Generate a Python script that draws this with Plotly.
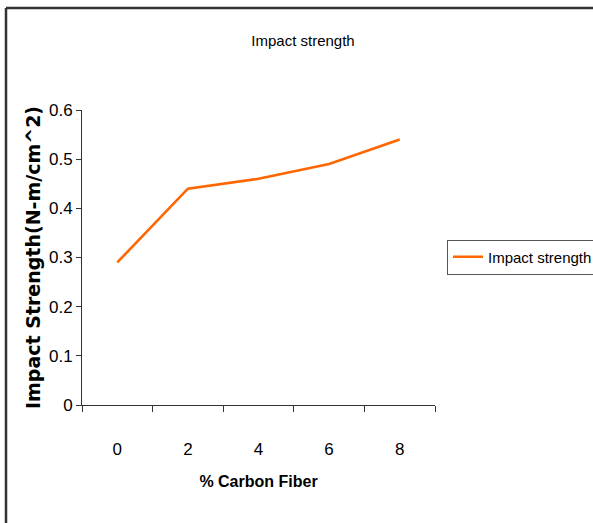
import plotly.graph_objects as go

categories = ["0", "2", "4", "6", "8"]
impact_strength = [0.29, 0.44, 0.46, 0.49, 0.54]
y_ticks = [0, 0.1, 0.2, 0.3, 0.4, 0.5, 0.6]
y_tick_labels = ["0", "0.1", "0.2", "0.3", "0.4", "0.5", "0.6"]

W, H = 593, 523
L, R, T, B = 82, 435, 110, 405

def px_x(p):
    return (p - L) / (R - L)

def px_y(p):
    return (B - p) / (B - T)

SANS = "Liberation Sans, Arial, sans-serif"

fig = go.Figure()
fig.add_trace(go.Scatter(
    x=categories, y=impact_strength, mode="lines",
    name="Impact strength",
    line=dict(color="#FF6600", width=2.6),
))

fig.update_layout(
    width=W, height=H,
    margin=dict(l=L, r=W - R, t=T, b=H - B, autoexpand=False),
    paper_bgcolor="white", plot_bgcolor="white",
    title=dict(text="Impact strength", x=303 / W, xref="container", xanchor="center",
               y=1 - 41 / H, yref="container", yanchor="middle",
               font=dict(family=SANS, size=15, color="black")),
    showlegend=True,
    legend=dict(x=px_x(447), y=px_y(257), xanchor="left", yanchor="middle",
                bordercolor="#555555", borderwidth=1, bgcolor="white",
                font=dict(family=SANS, size=15, color="black"),
                itemwidth=30),
    xaxis=dict(
        type="category", range=[-0.5, 4.5],
        showline=True, linecolor="#333333", linewidth=1,
        ticks="outside", tickson="boundaries", ticklen=6, tickcolor="#333333",
        showgrid=False, zeroline=False,
        tickfont=dict(family=SANS, size=17, color="black"),
        ticklabelstandoff=29,
        title=dict(text="% Carbon Fiber", standoff=17,
                   font=dict(family=SANS, size=16, color="black", weight="bold")),
    ),
    yaxis=dict(
        range=[0, 0.6], tickvals=y_ticks, ticktext=y_tick_labels,
        showline=True, linecolor="#333333", linewidth=1,
        ticks="outside", ticklen=5, tickcolor="#333333",
        showgrid=False, zeroline=False,
        tickfont=dict(family=SANS, size=17, color="black"),
        title=dict(text="Impact Strength(N-m/cm^2)", standoff=3,
                   font=dict(family="DejaVu Sans, sans-serif", size=19, color="black", weight="bold")),
    ),
    shapes=[
        dict(type="line", xref="paper", yref="paper",
             x0=px_x(6), x1=px_x(W + 5), y0=px_y(8), y1=px_y(8),
             line=dict(color="#333333", width=2.5)),
        dict(type="line", xref="paper", yref="paper",
             x0=px_x(6), x1=px_x(6), y0=px_y(8), y1=px_y(H + 5),
             line=dict(color="#333333", width=2.5)),
    ],
)

fig.write_html("out.html")
